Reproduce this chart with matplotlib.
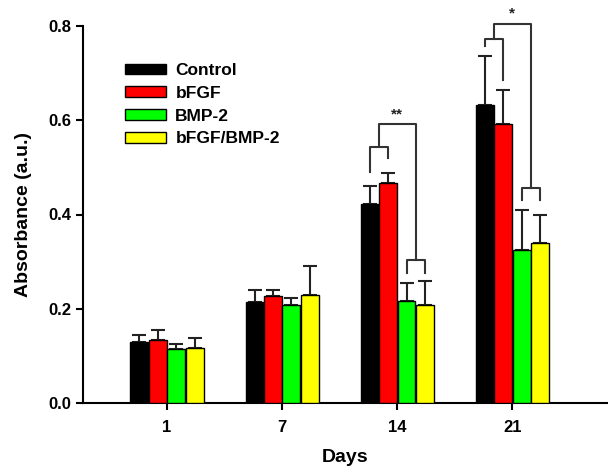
import numpy as np
import matplotlib
matplotlib.use('Agg')
from matplotlib import pyplot as plt

plt.rcParams['font.family'] = ['Liberation Sans', 'DejaVu Sans']
plt.rcParams['font.weight'] = 'bold'

dias = ['1', '7', '14', '21']
grupos = ['Control', 'bFGF', 'BMP-2', 'bFGF/BMP-2']
cores = ['#000000', '#ff0000', '#00ff00', '#ffff00']

control = [0.130, 0.215, 0.423, 0.633]
control_err = [0.015, 0.025, 0.037, 0.104]
bfgf = [0.133, 0.227, 0.467, 0.592]
bfgf_err = [0.022, 0.013, 0.021, 0.073]
bmp2 = [0.115, 0.208, 0.217, 0.325]
bmp2_err = [0.011, 0.015, 0.038, 0.085]
combo = [0.117, 0.230, 0.208, 0.340]
combo_err = [0.021, 0.061, 0.051, 0.060]

# chaves de significancia: (dia, topo par1, pernas par1, topo par2, pernas par2, topo juncao, rotulo)
chaves = [
    (2, 0.543, (0.490, 0.520), 0.304, (0.276, 0.276), 0.592, '**'),
    (3, 0.773, (0.758, 0.686), 0.456, (0.431, 0.431), 0.805, '*'),
]

valores = [control, bfgf, bmp2, combo]
erros = [control_err, bfgf_err, bmp2_err, combo_err]
deslocamentos = [-0.24, -0.08, 0.08, 0.24]
largura = 0.155

fig = plt.figure(figsize=(6.08, 4.67), dpi=100)
ax = fig.add_axes([83 / 608, 1 - 403 / 467, 1 - 83 / 608, (403 - 26) / 467])

x = np.arange(len(dias))
for i in range(4):
    ax.bar(x + deslocamentos[i], valores[i], largura, color=cores[i],
           edgecolor='black', linewidth=1.0, label=grupos[i], zorder=3)
    ax.errorbar(x + deslocamentos[i], valores[i],
                yerr=[np.zeros(len(dias)), erros[i]], fmt='none',
                ecolor='#222222', elinewidth=1.5, capsize=5, capthick=1.5, zorder=2)

cor_chave = '#333333'
for dia, t1, p1, t2, p2, tj, rot in chaves:
    xa, xb = dia + deslocamentos[0], dia + deslocamentos[1]
    xc, xd = dia + deslocamentos[2], dia + deslocamentos[3]
    ax.plot([xa, xa, xb, xb], [p1[0], t1, t1, p1[1]], color=cor_chave, lw=1.5, clip_on=False)
    ax.plot([xc, xc, xd, xd], [p2[0], t2, t2, p2[1]], color=cor_chave, lw=1.5, clip_on=False)
    m1 = (xa + xb) / 2
    m2 = (xc + xd) / 2
    ax.plot([m1, m1, m2, m2], [t1, tj, tj, t2], color=cor_chave, lw=1.5, clip_on=False)
    ax.text((m1 + m2) / 2, tj + 0.006, rot, ha='center', va='bottom',
            fontsize=11, fontweight='bold', color='#222222')

ax.set_xlim(-0.73, 3.83)
ax.set_ylim(0, 0.8)
ax.set_xticks(x)
ax.set_xticklabels(dias)
ax.set_yticks([0.0, 0.2, 0.4, 0.6, 0.8])
ax.set_yticklabels(['0.0', '0.2', '0.4', '0.6', '0.8'])
ax.tick_params(axis='both', direction='out', length=5, width=1.5, labelsize=12)
ax.tick_params(axis='x', pad=7)
for lado in ['top', 'right']:
    ax.spines[lado].set_visible(False)
for lado in ['left', 'bottom']:
    ax.spines[lado].set_linewidth(1.5)

ax.set_xlabel('Days', fontsize=14, fontweight='bold', labelpad=10)
ax.set_ylabel('Absorbance (a.u.)', fontsize=14, fontweight='bold', labelpad=12)

ax.legend(loc='upper left', bbox_to_anchor=(125 / 608, 1 - 63 / 467),
          bbox_transform=fig.transFigure, frameon=False, fontsize=12.5,
          handlelength=2.35, handleheight=0.55, labelspacing=0.45,
          handletextpad=0.55, borderpad=0, borderaxespad=0)

plt.savefig('out.png', dpi=100)
